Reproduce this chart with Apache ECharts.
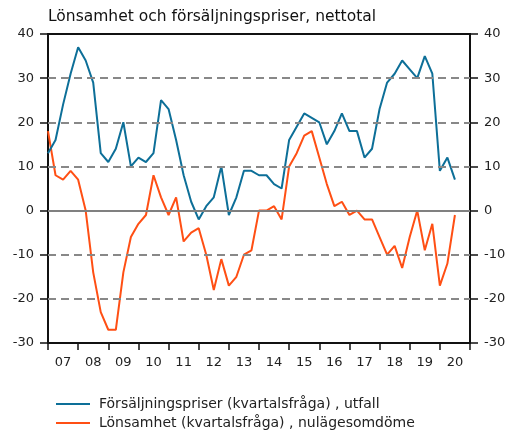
<!DOCTYPE html>
<html>
<head>
<meta charset="utf-8">
<script src="https://cdn.jsdelivr.net/npm/echarts@6/dist/echarts.min.js"></script>
<style>
  html, body { margin: 0; padding: 0; background: #fff; }
  #chart { width: 522px; height: 432px; }
</style>
</head>
<body>
<div id="chart"></div>
<script>
// årsetiketter på x-axeln
var years = ["07", "08", "09", "10", "11", "12", "13", "14", "15", "16", "17", "18", "19", "20"];

// kvartalsdata, 2007 K1 - 2020 K3
var forsaljningspriser = [13, 16, 24, 31, 37, 34, 29, 13, 11, 14, 20, 10, 12, 11, 13, 25,
  23, 16, 8, 2, -2, 1, 3, 10, -1, 3, 9, 9, 8, 8, 6, 5,
  16, 19, 22, 21, 20, 15, 18, 22, 18, 18, 12, 14, 23, 29, 31, 34,
  32, 30, 35, 31, 9, 12, 7];
var lonsamhet = [18, 8, 7, 9, 7, 0, -14, -23, -27, -27, -14, -6, -3, -1, 8, 3,
  -1, 3, -7, -5, -4, -10, -18, -11, -17, -15, -10, -9, 0, 0, 1, -2,
  10, 13, 17, 18, 12, 6, 1, 2, -1, 0, -2, -2, -6, -10, -8, -13,
  -6, 0, -9, -3, -17, -12, -1];

// streckade stödlinjer (ej 0, den är heldragen)
var gridLevels = [-20, -10, 10, 20, 30];

var seriesNames = ["Försäljningspriser (kvartalsfråga) , utfall", "Lönsamhet (kvartalsfråga) , nulägesomdöme"];

function toPairs(arr) {
  return arr.map(function (v, i) { return [i, v]; });
}

var font = "DejaVu Sans, Verdana, sans-serif";
var myChart = echarts.init(document.getElementById("chart"));

// en legend per rad
function legendRow(name, top) {
  return {
    left: 56,
    top: top,
    padding: 0,
    itemWidth: 34,
    itemHeight: 2,
    textStyle: { fontSize: 14, color: "#222", fontFamily: font, padding: [0, 0, 0, 4] },
    data: [{ name: name, icon: "rect" }]
  };
}

function yAxisSide(pos) {
  return {
    type: "value",
    min: -30, max: 40, interval: 10,
    position: pos,
    axisLine: { show: true, lineStyle: { color: "#111", width: 2 } },
    axisTick: { show: true, length: 8, lineStyle: { color: "#111", width: 1.5 } },
    axisLabel: { fontSize: 13, color: "#222", margin: 14 },
    splitLine: { show: false }
  };
}

myChart.setOption({
  animation: false,
  textStyle: { fontFamily: font },
  title: {
    text: "Lönsamhet och försäljningspriser, nettotal",
    left: 48,
    top: 9,
    padding: 0,
    textStyle: { fontSize: 15.5, fontWeight: "normal", color: "#111", fontFamily: font }
  },
  grid: {
    left: 48, right: 52, top: 34, bottom: 89,
    show: true, borderColor: "#111", borderWidth: 2
  },
  legend: [legendRow(seriesNames[0], 397), legendRow(seriesNames[1], 416)],
  xAxis: [
    {
      type: "category",
      data: years,
      boundaryGap: true,
      axisLine: { onZero: false, lineStyle: { color: "#111", width: 2 } },
      axisTick: { show: true, length: 7, lineStyle: { color: "#111", width: 1.5 } },
      axisLabel: { fontSize: 13, color: "#222", margin: 13 },
      splitLine: { show: false }
    },
    {
      type: "value",
      min: 0,
      max: 56,
      show: false,
      splitLine: { show: false }
    }
  ],
  yAxis: [yAxisSide("left"), yAxisSide("right")],
  series: [
    {
      // bara stödlinjer, ritas under kurvorna
      type: "line",
      xAxisIndex: 1,
      yAxisIndex: 0,
      data: [],
      z: 1,
      markLine: {
        silent: true,
        symbol: "none",
        label: { show: false },
        lineStyle: { color: "#888", width: 2, type: [8, 5] },
        data: gridLevels.map(function (v) { return { yAxis: v }; })
          .concat([{ yAxis: 0, lineStyle: { color: "#808080", width: 2, type: "solid" } }])
      }
    },
    {
      name: seriesNames[0],
      type: "line",
      xAxisIndex: 1,
      yAxisIndex: 0,
      data: toPairs(forsaljningspriser),
      symbol: "none",
      lineStyle: { color: "#0d6f98", width: 2 },
      itemStyle: { color: "#0d6f98" },
      z: 4
    },
    {
      name: seriesNames[1],
      type: "line",
      xAxisIndex: 1,
      yAxisIndex: 0,
      data: toPairs(lonsamhet),
      symbol: "none",
      lineStyle: { color: "#ff4f14", width: 2 },
      itemStyle: { color: "#ff4f14" },
      z: 3
    }
  ]
});
</script>
</body>
</html>
